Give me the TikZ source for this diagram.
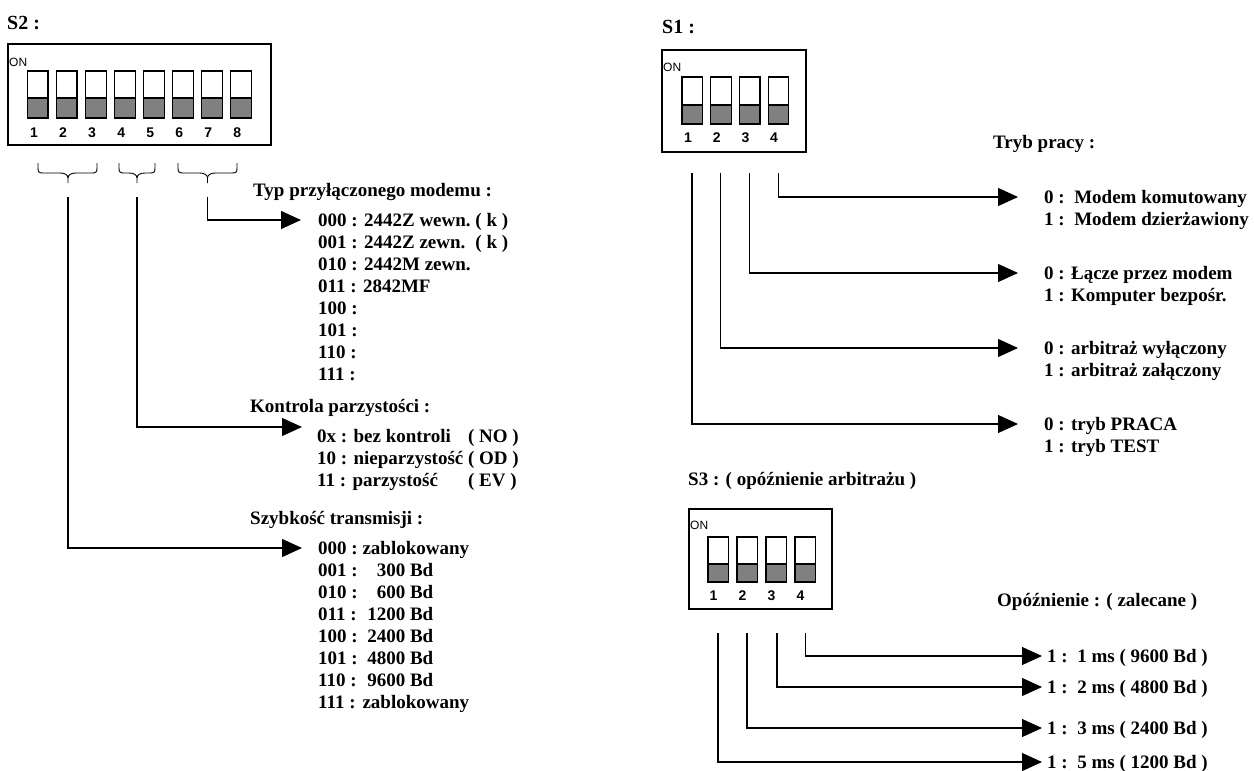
\documentclass[tikz,border=0pt]{standalone}
\usepackage{fontspec}
\setmainfont{Liberation Serif}
\newfontfamily\arialf{Liberation Sans}
\usetikzlibrary{arrows.meta}
\definecolor{swgray}{HTML}{808080}
\begin{document}
\begin{tikzpicture}[x=1pt,y=-1pt,
  txt/.style={anchor=base west, inner sep=0pt, font=\bfseries\fontsize{19}{22}\selectfont},
  ttl/.style={anchor=base west, inner sep=0pt, font=\bfseries\fontsize{20}{24}\selectfont},
  onlbl/.style={anchor=west, inner sep=0pt, font=\arialf\fontsize{12}{12}\selectfont},
  num/.style={anchor=base, inner sep=0pt, font=\arialf\bfseries\fontsize{14}{14}\selectfont},
  dipbox/.style={draw, line width=1.3pt},
  sw/.style={draw, line width=1.2pt},
  conn/.style={line width=1.2pt, -{Triangle[length=20pt,width=18pt]}},
  brc/.style={line width=0.9pt}]
\useasboundingbox (0,0) rectangle (1254,771);

% ---------------- S2 ----------------
\node[ttl] (s2t) at (7,29.5) {S2 :};
\draw[dipbox] (8,44) rectangle (271,145);
\node[onlbl] (s2on) at (9,62) {ON};
\foreach \i in {1,...,8} {
  \pgfmathsetmacro\xl{27.5+29.05*(\i-1)}
  \fill[swgray] (\xl,98) rectangle ++(20.5,20);
  \draw[sw] (\xl,71) rectangle ++(20.5,47);
  \draw[sw] (\xl,98) -- ++(20.5,0);
  \node[num] (s2n\i) at (\xl+6.5,137) {\i};
}
\foreach \xa/\xm/\xb in {38/68/97, 119/137/155, 178/207.5/237} {
  \draw[brc] (\xa,163) -- (\xa,168) .. controls (\xa,172) and (\xa+1,173) .. (\xa+5,173)
    -- (\xm-8,173) .. controls (\xm-3,173) and (\xm,175) .. (\xm,178) -- (\xm,183);
  \draw[brc] (\xm,178) .. controls (\xm,175) and (\xm+3,173) .. (\xm+8,173)
    -- (\xb-5,173) .. controls (\xb-1,173) and (\xb,172) .. (\xb,168) -- (\xb,163);
}
\coordinate (b1) at (68,197);
\coordinate (b2) at (137,197);
\coordinate (b3) at (207.5,197);
\coordinate (t1) at (302,548);
\coordinate (t2) at (302,427);
\coordinate (t3) at (301,220);
\draw[conn] (b3) |- (t3);
\draw[conn] (b2) |- (t2);
\draw[conn] (b1) |- (t1);

\node[txt] (typh) at (253,196.5) {Typ przyłączonego modemu :};
\node[txt] (typl) at (318,226) {\begin{tabular}[t]{@{}l@{\ }l@{}}
000 : 2442Z wewn. & ( k )\\
001 : 2442Z zewn. & ( k )\\
010 : 2442M zewn. & \\
011 : 2842MF & \\
100 : & \\
101 : & \\
110 : & \\
111 : &
\end{tabular}};

\node[txt] (parh) at (250,412) {Kontrola parzystości :};
\node[txt] (parl) at (317,442) {\begin{tabular}[t]{@{}l@{\ }l@{}}
0x : bez kontroli & ( NO )\\
10 : nieparzystość & ( OD )\\
11 : parzystość & ( EV )
\end{tabular}};

\node[txt] (szyh) at (250,524) {Szybkość transmisji :};
\node[txt] (szyl) at (318,554) {\begin{tabular}[t]{@{}l@{\ }r@{\ }l@{}}
000 : & \multicolumn{2}{@{}l@{}}{zablokowany}\\
001 : & \ \ 300 & Bd\\
010 : & \ \ 600 & Bd\\
011 : & \ 1200 & Bd\\
100 : & \ 2400 & Bd\\
101 : & \ 4800 & Bd\\
110 : & \ 9600 & Bd\\
111 : & \multicolumn{2}{@{}l@{}}{zablokowany}
\end{tabular}};

% ---------------- S1 ----------------
\node[ttl] (s1t) at (662,33) {S1 :};
\draw[dipbox] (662,50) rectangle (806,152);
\node[onlbl] (s1on) at (663,67) {ON};
\foreach \i in {1,...,4} {
  \pgfmathsetmacro\xl{682+28.7*(\i-1)}
  \fill[swgray] (\xl,105) rectangle ++(20.5,19);
  \draw[sw] (\xl,77) rectangle ++(20.5,47);
  \draw[sw] (\xl,105) -- ++(20.5,0);
  \node[num] (s1n\i) at (\xl+6,142) {\i};
}
\coordinate (p1) at (692,173);
\coordinate (p2) at (720.5,173);
\coordinate (p3) at (749.5,173);
\coordinate (p4) at (778.5,173);
\coordinate (q1) at (1018,424);
\coordinate (q2) at (1018,348);
\coordinate (q3) at (1018,273);
\coordinate (q4) at (1018,197);
\draw[conn] (p4) |- (q4);
\draw[conn] (p3) |- (q3);
\draw[conn] (p2) |- (q2);
\draw[conn] (p1) |- (q1);

\node[txt] (tryb) at (993,148) {Tryb pracy :};
\node[txt] (r4) at (1044,203) {\begin{tabular}[t]{@{}l@{}}
0 :\ \ Modem komutowany\\
1 :\ \ Modem dzierżawiony
\end{tabular}};
\node[txt] (r3) at (1044,279) {\begin{tabular}[t]{@{}l@{}}
0 : Łącze przez modem\\
1 : Komputer bezpośr.
\end{tabular}};
\node[txt] (r2) at (1044,354) {\begin{tabular}[t]{@{}l@{}}
0 : arbitraż wyłączony\\
1 : arbitraż załączony
\end{tabular}};
\node[txt] (r1) at (1044,430) {\begin{tabular}[t]{@{}l@{}}
0 : tryb PRACA\\
1 : tryb TEST
\end{tabular}};

% ---------------- S3 ----------------
\node[txt] (s3t) at (688,485) {S3 : ( opóźnienie arbitrażu )};
\draw[dipbox] (689,509) rectangle (832,609);
\node[onlbl] (s3on) at (690,525) {ON};
\foreach \i in {1,...,4} {
  \pgfmathsetmacro\xl{708+29*(\i-1)}
  \fill[swgray] (\xl,564) rectangle ++(20.5,18);
  \draw[sw] (\xl,537) rectangle ++(20.5,45);
  \draw[sw] (\xl,564) -- ++(20.5,0);
  \node[num] (s3n\i) at (\xl+5.5,600) {\i};
}
\coordinate (u1) at (718,633);
\coordinate (u2) at (747,633);
\coordinate (u3) at (777,633);
\coordinate (u4) at (805.5,633);
\coordinate (v1) at (1042,762);
\coordinate (v2) at (1042,728);
\coordinate (v3) at (1042,687);
\coordinate (v4) at (1042,656);
\draw[conn] (u4) |- (v4);
\draw[conn] (u3) |- (v3);
\draw[conn] (u2) |- (v2);
\draw[conn] (u1) |- (v1);

\node[txt] (opoz) at (997,606) {Opóźnienie : ( zalecane )};
\node[txt] (d4) at (1047,662) {1 :\ \ 1 ms ( 9600 Bd )};
\node[txt] (d3) at (1047,693) {1 :\ \ 2 ms ( 4800 Bd )};
\node[txt] (d2) at (1047,734) {1 :\ \ 3 ms ( 2400 Bd )};
\node[txt] (d1) at (1047,768) {1 :\ \ 5 ms ( 1200 Bd )};
\end{tikzpicture}
\end{document}
